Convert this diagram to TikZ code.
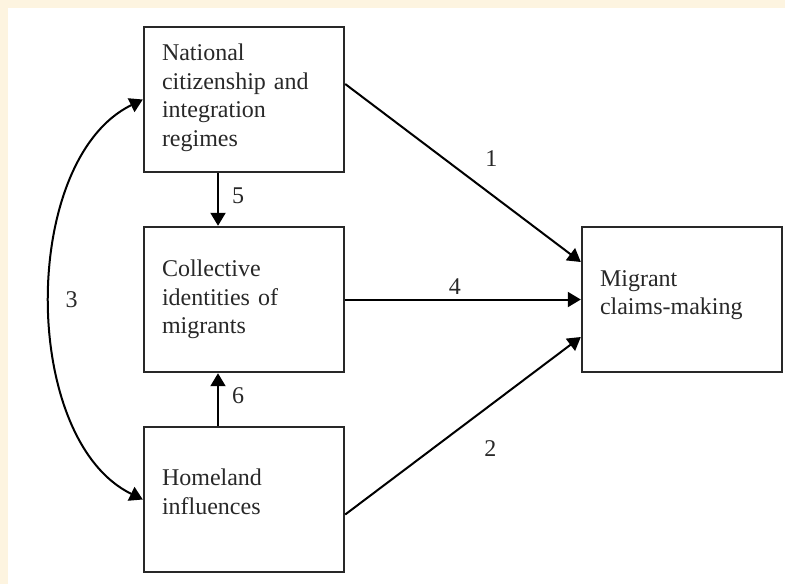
\documentclass[tikz,border=0pt]{standalone}
\usepackage{fontspec}
\setmainfont{Liberation Serif}
\usetikzlibrary{arrows.meta}
\definecolor{cream}{RGB}{253,244,224}
\definecolor{ink}{RGB}{40,40,40}

\begin{document}
\begin{tikzpicture}[x=0.5pt,y=-0.5pt,node distance=100pt,
box/.style={
rectangle,
draw=ink,
line width=1.2pt,
fill=white,
text=ink,
text width=82pt,
align=left,
inner xsep=9pt,
minimum height=72.5pt,
font=\fontsize{12}{14.2}\selectfont
},
conn/.style={-{Triangle[length=6.5pt,width=7.5pt]},line width=1pt},
both/.style={{Triangle[length=6.5pt,width=7.5pt]}-{Triangle[length=6.5pt,width=7.5pt]},line width=1pt},
num/.style={inner sep=2pt,text=ink,font=\fontsize{12}{14}\selectfont}]

\useasboundingbox (0,0) rectangle (785,584);
\fill[cream] (0,0) rectangle (785,584);
\fill[white] (8,8) rectangle (785,584);

\node (identity) [box] at (244,299.5) {Collective\\identities of\\migrants};
\node (regime) [box,above of=identity,text depth=47pt] {National\\citizenship and\\integration\\regimes};
\node (homeland) [box,below of=identity,text depth=22pt] {Homeland\\influences};
\node (claims) [box,right of=identity,node distance=219pt,text depth=21pt] {Migrant\\claims-making};

\draw[conn] ([xshift=-13pt]regime.south) -- node[num,right,xshift=4.5pt,yshift=2pt] {5} ([xshift=-13pt]identity.north);
\draw[conn] ([xshift=-13pt]homeland.north) -- node[num,right,xshift=4.5pt,yshift=2pt] {6} ([xshift=-13pt]identity.south);
\draw[conn] ([yshift=7.75pt]regime.east) -- node[num,pos=0.62,above,yshift=11.5pt] {1} ([yshift=18.75pt]claims.west);
\draw[conn] (identity) -- node[num,pos=0.466,above] {4} (claims);
\draw[conn] ([yshift=-7.5pt]homeland.east) -- node[num,pos=0.616,below,yshift=-15pt] {2} ([yshift=-18.75pt]claims.west);
\draw[both] (regime.west) .. controls +(-123,60) and +(-123,-60) .. node[num,right,xshift=5pt] {3} (homeland.west);
\end{tikzpicture}
\end{document}
